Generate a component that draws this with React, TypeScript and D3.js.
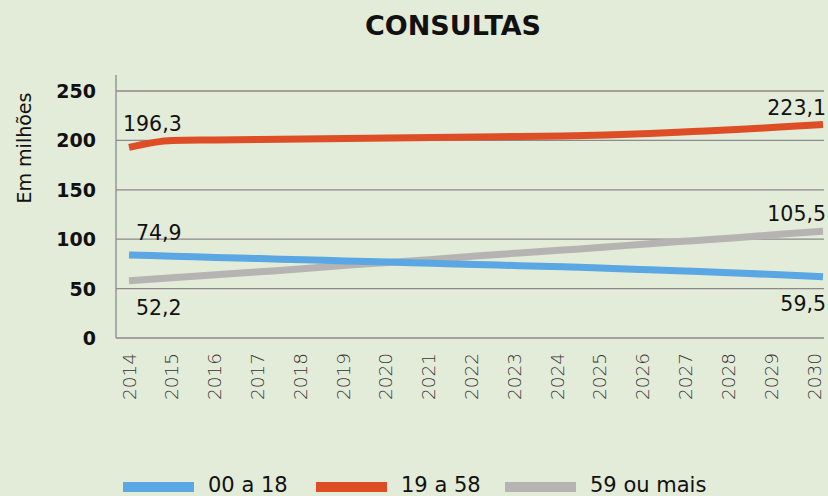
import * as d3 from "d3";
import React from "react";

const years = [2014, 2015, 2016, 2017, 2018, 2019, 2020, 2021, 2022, 2023, 2024, 2025, 2026, 2027, 2028, 2029, 2030];
const jovens = [84, 82.8, 81.6, 80.4, 79.2, 78, 76.8, 75.6, 74.4, 73.2, 72, 70.6, 69.1, 67.5, 65.8, 64, 62];
const adultos = [193, 200, 200.5, 201, 201.5, 202, 202.5, 203, 203.5, 204, 204.5, 205.5, 207, 209, 211, 213.5, 216];
const idosos = [58, 61, 64, 67, 70, 73.5, 76.5, 79.5, 83, 86, 89, 92, 95.5, 98.5, 101.5, 105, 108];
const yTicks = [0, 50, 100, 150, 200, 250];
const seriesNames = ["00 a 18", "19 a 58", "59 ou mais"];
const colors = ["#5aa7e4", "#dd4e26", "#b5b4b3"];

// labels at the ends of each line
const startLabels = ["74,9", "196,3", "52,2"];
const endLabels = ["59,5", "223,1", "105,5"];

const W = 828;
const H = 496;
const font = "'DejaVu Sans', sans-serif";

export default function App() {
  const x = d3.scaleLinear().domain([2014, 2030]).range([129, 823]);
  // year labels sit on a slightly narrower band than the lines
  const xLab = d3.scaleLinear().domain([2014, 2030]).range([129, 814]);
  const y = d3.scaleLinear().domain([0, 250]).range([338, 91]);
  const all = [jovens, adultos, idosos];

  const line = d3
    .line<number>()
    .x((d, i) => x(years[i]))
    .y((d) => y(d))
    .curve(d3.curveMonotoneX);

  // label positions (baseline offsets, relative to the line)
  const startY = [y(jovens[0]) - 15, y(adultos[0]) - 16, y(idosos[0]) + 34];
  const endY = [y(jovens[16]) + 34, y(adultos[16]) - 10, y(idosos[16]) - 10];
  const startX = [136, 123, 136];

  const legendX = [123, 316, 505];

  return (
    <svg width={W} height={H} style={{ position: "absolute", left: 0, top: 0, background: "#e3ebd9" }}>
      <rect width={W} height={H} fill="#e3ebd9" />
      <text x={453} y={35} textAnchor="middle" fontFamily={font} fontWeight="bold" fontSize={27} fill="#111">
        CONSULTAS
      </text>

      {yTicks.map((t) => (
        <g key={t}>
          <line x1={116} x2={824} y1={y(t)} y2={y(t)} stroke="#8a8a8a" strokeWidth={1.3} />
          <text x={96} y={y(t) + 7} textAnchor="end" fontFamily={font} fontWeight="bold" fontSize={19} fill="#111">
            {t}
          </text>
        </g>
      ))}
      <line x1={116} x2={116} y1={75} y2={338} stroke="#8a8a8a" strokeWidth={1.3} />

      <text
        transform={`translate(31,148) rotate(-90)`}
        textAnchor="middle"
        fontFamily={font}
        fontSize={19}
        fill="#111"
      >
        Em milhões
      </text>

      {years.map((yr) => (
        <text
          key={yr}
          transform={`translate(${xLab(yr) + 6.5},353) rotate(-90)`}
          textAnchor="end"
          fontFamily={font}
          fontWeight={300}
          fontSize={18.5}
          fill="#333"
        >
          {yr}
        </text>
      ))}

      {[1, 2, 0].map((i) => (
        <path
          key={i}
          d={line(all[i]) || ""}
          fill="none"
          stroke={colors[i]}
          strokeWidth={7}
        />
      ))}

      {all.map((s, i) => (
        <g key={i}>
          <text x={startX[i]} y={startY[i]} fontFamily={font} fontSize={20.5} fill="#111">
            {startLabels[i]}
          </text>
          <text x={826} y={endY[i]} textAnchor="end" fontFamily={font} fontSize={20.5} fill="#111">
            {endLabels[i]}
          </text>
        </g>
      ))}

      {seriesNames.map((n, i) => (
        <g key={n}>
          <rect x={legendX[i]} y={482} width={71} height={10} fill={colors[i]} />
          <text x={legendX[i] + 85} y={492} fontFamily={font} fontSize={21} fill="#111">
            {n}
          </text>
        </g>
      ))}
    </svg>
  );
}
